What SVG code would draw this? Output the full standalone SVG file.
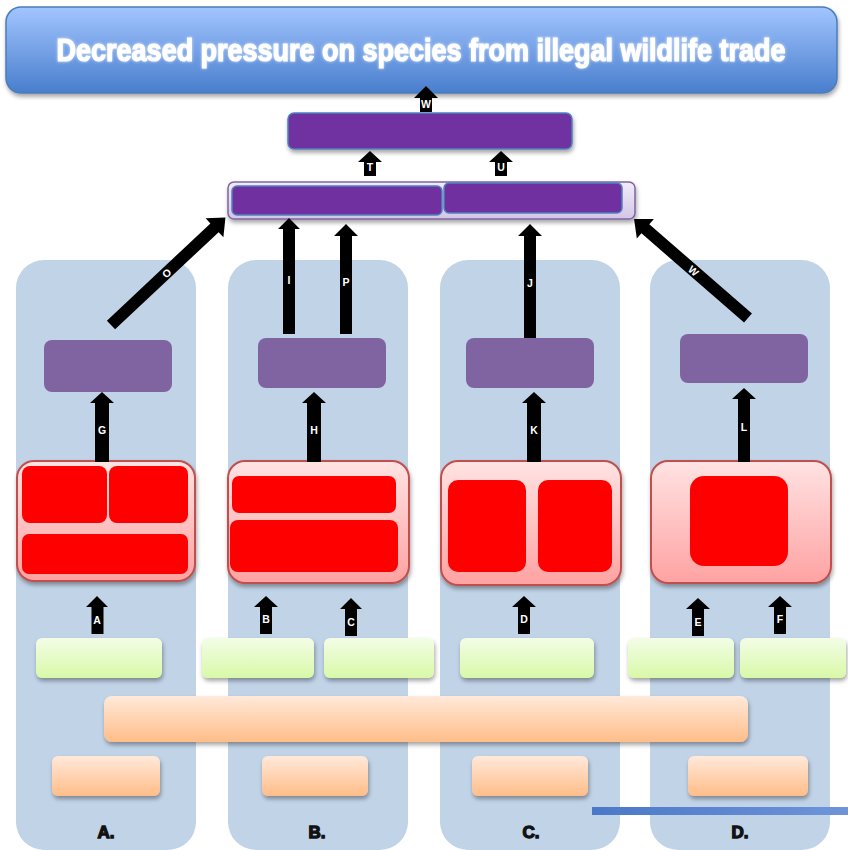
<svg xmlns="http://www.w3.org/2000/svg" width="848" height="850" viewBox="0 0 848 850">
<defs>
<linearGradient id="gTitle" x1="0" y1="0" x2="0" y2="1"><stop offset="0" stop-color="#A2C5FF"/><stop offset="1" stop-color="#497ECD"/></linearGradient>
<linearGradient id="gRed" x1="0" y1="0" x2="0" y2="1"><stop offset="0" stop-color="#FFE3E3"/><stop offset="1" stop-color="#FFA2A2"/></linearGradient>
<linearGradient id="gGreen" x1="0" y1="0" x2="0" y2="1"><stop offset="0" stop-color="#F3FDE6"/><stop offset="1" stop-color="#D8F9A8"/></linearGradient>
<linearGradient id="gOrange" x1="0" y1="0" x2="0" y2="1"><stop offset="0" stop-color="#FFE9DA"/><stop offset="1" stop-color="#FFBD88"/></linearGradient>
<linearGradient id="gLav" x1="0" y1="0" x2="0" y2="1"><stop offset="0" stop-color="#F1ECF8"/><stop offset="1" stop-color="#D3C6E6"/></linearGradient>
<linearGradient id="gLine" x1="0" y1="0" x2="1" y2="0"><stop offset="0" stop-color="#4A78C8"/><stop offset="1" stop-color="#6F94D8"/></linearGradient>
<filter id="sh" x="-10%" y="-20%" width="120%" height="150%"><feDropShadow dx="1" dy="3" stdDeviation="2" flood-color="#000" flood-opacity="0.35"/></filter>
<filter id="glow" x="-5%" y="-40%" width="110%" height="180%"><feGaussianBlur in="SourceAlpha" stdDeviation="1.8" result="b"/><feFlood flood-color="#ffffff" flood-opacity="0.75"/><feComposite in2="b" operator="in" result="g"/><feMerge><feMergeNode in="g"/><feMergeNode in="SourceGraphic"/></feMerge></filter>
</defs>
<style>
.col{fill:#C1D3E7}
.pm{fill:#8064A2}
.pt{fill:#7030A0;stroke:#4F81BD;stroke-width:1.5}
.red{fill:url(#gRed);stroke:#C0504D;stroke-width:2}
.ri{fill:#FF0000}
.grn{fill:url(#gGreen)}
.org{fill:url(#gOrange)}
.arr{fill:#000}
.al{font-family:"Liberation Sans",Arial,sans-serif;font-weight:bold;font-size:10.5px;fill:#fff;text-anchor:middle}
.cl{font-family:"Liberation Sans",Arial,sans-serif;font-weight:bold;font-size:17px;fill:#111;stroke:#111;stroke-width:1.3;text-anchor:middle}
</style>
<rect width="848" height="850" fill="#fff"/>
<g id="columns">
<rect id="colA" class="col" x="16" y="260" width="180" height="590" rx="28"/>
<rect id="colB" class="col" x="228" y="260" width="180" height="590" rx="28"/>
<rect id="colC" class="col" x="440" y="260" width="180" height="590" rx="28"/>
<rect id="colD" class="col" x="650" y="260" width="180" height="590" rx="28"/>
</g>
<g id="title">
<rect x="6" y="7" width="831" height="86" rx="15" fill="url(#gTitle)" stroke="#4A7EBB" stroke-width="1.5" filter="url(#sh)"/>
<g filter="url(#glow)"><text transform="translate(421,61) scale(1,1.16)" x="0" y="0" font-family="'Liberation Sans',Arial,sans-serif" font-weight="bold" font-size="27" fill="#fff" stroke="#fff" stroke-width="1" text-anchor="middle">Decreased pressure on species from illegal wildlife trade</text></g>
</g>
<g id="topPurple"><rect class="pt" x="288" y="113" width="284" height="36" rx="6" filter="url(#sh)"/></g>
<g id="container">
<rect x="228" y="182" width="407" height="37" rx="6" fill="url(#gLav)" stroke="#8064A2" stroke-width="1.5" filter="url(#sh)"/>
<rect class="pt" x="232" y="186" width="210" height="29" rx="5"/>
<rect class="pt" x="444" y="183" width="178" height="30" rx="5"/>
</g>
<g id="midA"><rect class="pm" x="44" y="340" width="128" height="52" rx="8"/></g>
<g id="midB"><rect class="pm" x="258" y="338" width="128" height="50" rx="8"/></g>
<g id="midC"><rect class="pm" x="466" y="338" width="128" height="50" rx="8"/></g>
<g id="midD"><rect class="pm" x="680" y="334" width="128" height="49" rx="8"/></g>
<g id="redA" filter="url(#sh)">
<rect class="red" x="17" y="461" width="178" height="120" rx="17"/>
<rect class="ri" x="22" y="466" width="85" height="57" rx="8"/>
<rect class="ri" x="109" y="466" width="79" height="57" rx="8"/>
<rect class="ri" x="22" y="534" width="166" height="40" rx="7"/>
</g>
<g id="redB" filter="url(#sh)">
<rect class="red" x="228" y="461" width="181" height="122" rx="17"/>
<rect class="ri" x="232" y="476" width="164" height="37" rx="7"/>
<rect class="ri" x="230" y="520" width="168" height="52" rx="8"/>
</g>
<g id="redC" filter="url(#sh)">
<rect class="red" x="441" y="461" width="180" height="124" rx="17"/>
<rect class="ri" x="448" y="480" width="78" height="92" rx="10"/>
<rect class="ri" x="538" y="480" width="74" height="92" rx="10"/>
</g>
<g id="redD" filter="url(#sh)">
<rect class="red" x="651" y="461" width="180" height="122" rx="17"/>
<rect class="ri" x="690" y="476" width="98" height="90" rx="14"/>
</g>
<g id="greens">
<rect id="gA" class="grn" x="36" y="638" width="126" height="40" rx="6" filter="url(#sh)"/>
<rect id="gB" class="grn" x="202" y="638" width="112" height="40" rx="6" filter="url(#sh)"/>
<rect id="gC" class="grn" x="324" y="638" width="110" height="40" rx="6" filter="url(#sh)"/>
<rect id="gD" class="grn" x="460" y="638" width="134" height="40" rx="6" filter="url(#sh)"/>
<rect id="gE" class="grn" x="628" y="638" width="106" height="40" rx="6" filter="url(#sh)"/>
<rect id="gF" class="grn" x="740" y="638" width="106" height="40" rx="6" filter="url(#sh)"/>
</g>
<g id="bigOrange"><rect class="org" x="104" y="696" width="644" height="46" rx="8" filter="url(#sh)"/></g>
<g id="smallOranges">
<rect id="oA" class="org" x="52" y="756" width="108" height="40" rx="6" filter="url(#sh)"/>
<rect id="oB" class="org" x="262" y="756" width="106" height="40" rx="6" filter="url(#sh)"/>
<rect id="oC" class="org" x="472" y="756" width="116" height="40" rx="6" filter="url(#sh)"/>
<rect id="oD" class="org" x="688" y="756" width="120" height="40" rx="6" filter="url(#sh)"/>
</g>
<g id="blueLine"><rect x="592" y="807" width="256" height="8" fill="url(#gLine)"/></g>
<g id="colLabels">
<text class="cl" x="106" y="838">A.</text>
<text class="cl" x="317" y="838">B.</text>
<text class="cl" x="531" y="838">C.</text>
<text class="cl" x="740" y="838">D.</text>
</g>
<g id="connectors">
<path class="arr" d="M420 112 V98 H414 L426 86 L438 98 H432 V112 Z"/><text class="al" x="426" y="108">W</text>
<path class="arr" d="M364 176 V162 H358 L370 151 L382 162 H376 V176 Z"/><text class="al" x="370" y="171">T</text>
<path class="arr" d="M495 176 V162 H489 L501 151 L513 162 H507 V176 Z"/><text class="al" x="501" y="171">U</text>
<path class="arr" d="M283 334 V229 H278 L289 218 L300 229 H295 V334 Z"/><text class="al" x="289" y="284">I</text>
<path class="arr" d="M340 334 V236 H334 L346 224 L358 236 H352 V334 Z"/><text class="al" x="346" y="286">P</text>
<path class="arr" d="M524 338 V236 H518 L530 224 L542 236 H536 V338 Z"/><text class="al" x="530" y="287">J</text>
<g transform="translate(111,325) rotate(-43.2)"><path class="arr" d="M0 -6 H142 V-13 L157 0 L142 13 V6 H0 Z"/><text class="al" x="76" y="4">O</text></g>
<g transform="translate(748,318) rotate(41)"><path class="arr" d="M0 -6 H-136 V-13 L-151 0 L-136 13 V6 H0 Z"/><text class="al" x="-72" y="4">W</text></g>
<path class="arr" d="M95 462 V403 H90 L102 392 L114 403 H109 V462 Z"/><text class="al" x="102" y="434">G</text>
<path class="arr" d="M307 462 V403 H302 L314 392 L326 403 H321 V462 Z"/><text class="al" x="314" y="434">H</text>
<path class="arr" d="M527 462 V403 H522 L534 392 L546 403 H541 V462 Z"/><text class="al" x="534" y="434">K</text>
<path class="arr" d="M738 462 V399 H732 L744 388 L756 399 H750 V462 Z"/><text class="al" x="744" y="431">L</text>
<path class="arr" d="M91.5 634 V607 H86 L97 596 L108 607 H103.5 V634 Z"/><text class="al" x="97" y="624">A</text>
<path class="arr" d="M260 634 V607 H254 L266 596 L278 607 H272 V634 Z"/><text class="al" x="266" y="623">B</text>
<path class="arr" d="M345 636 V609 H340 L351 598 L362 609 H357 V636 Z"/><text class="al" x="351" y="626">C</text>
<path class="arr" d="M518 634 V607 H512 L524 596 L536 607 H530 V634 Z"/><text class="al" x="524" y="623">D</text>
<path class="arr" d="M692 636 V609 H686 L698 598 L710 609 H704 V636 Z"/><text class="al" x="698" y="626">E</text>
<path class="arr" d="M774 634 V607 H768 L780 596 L792 607 H786 V634 Z"/><text class="al" x="780" y="623">F</text>
</g>
</svg>
